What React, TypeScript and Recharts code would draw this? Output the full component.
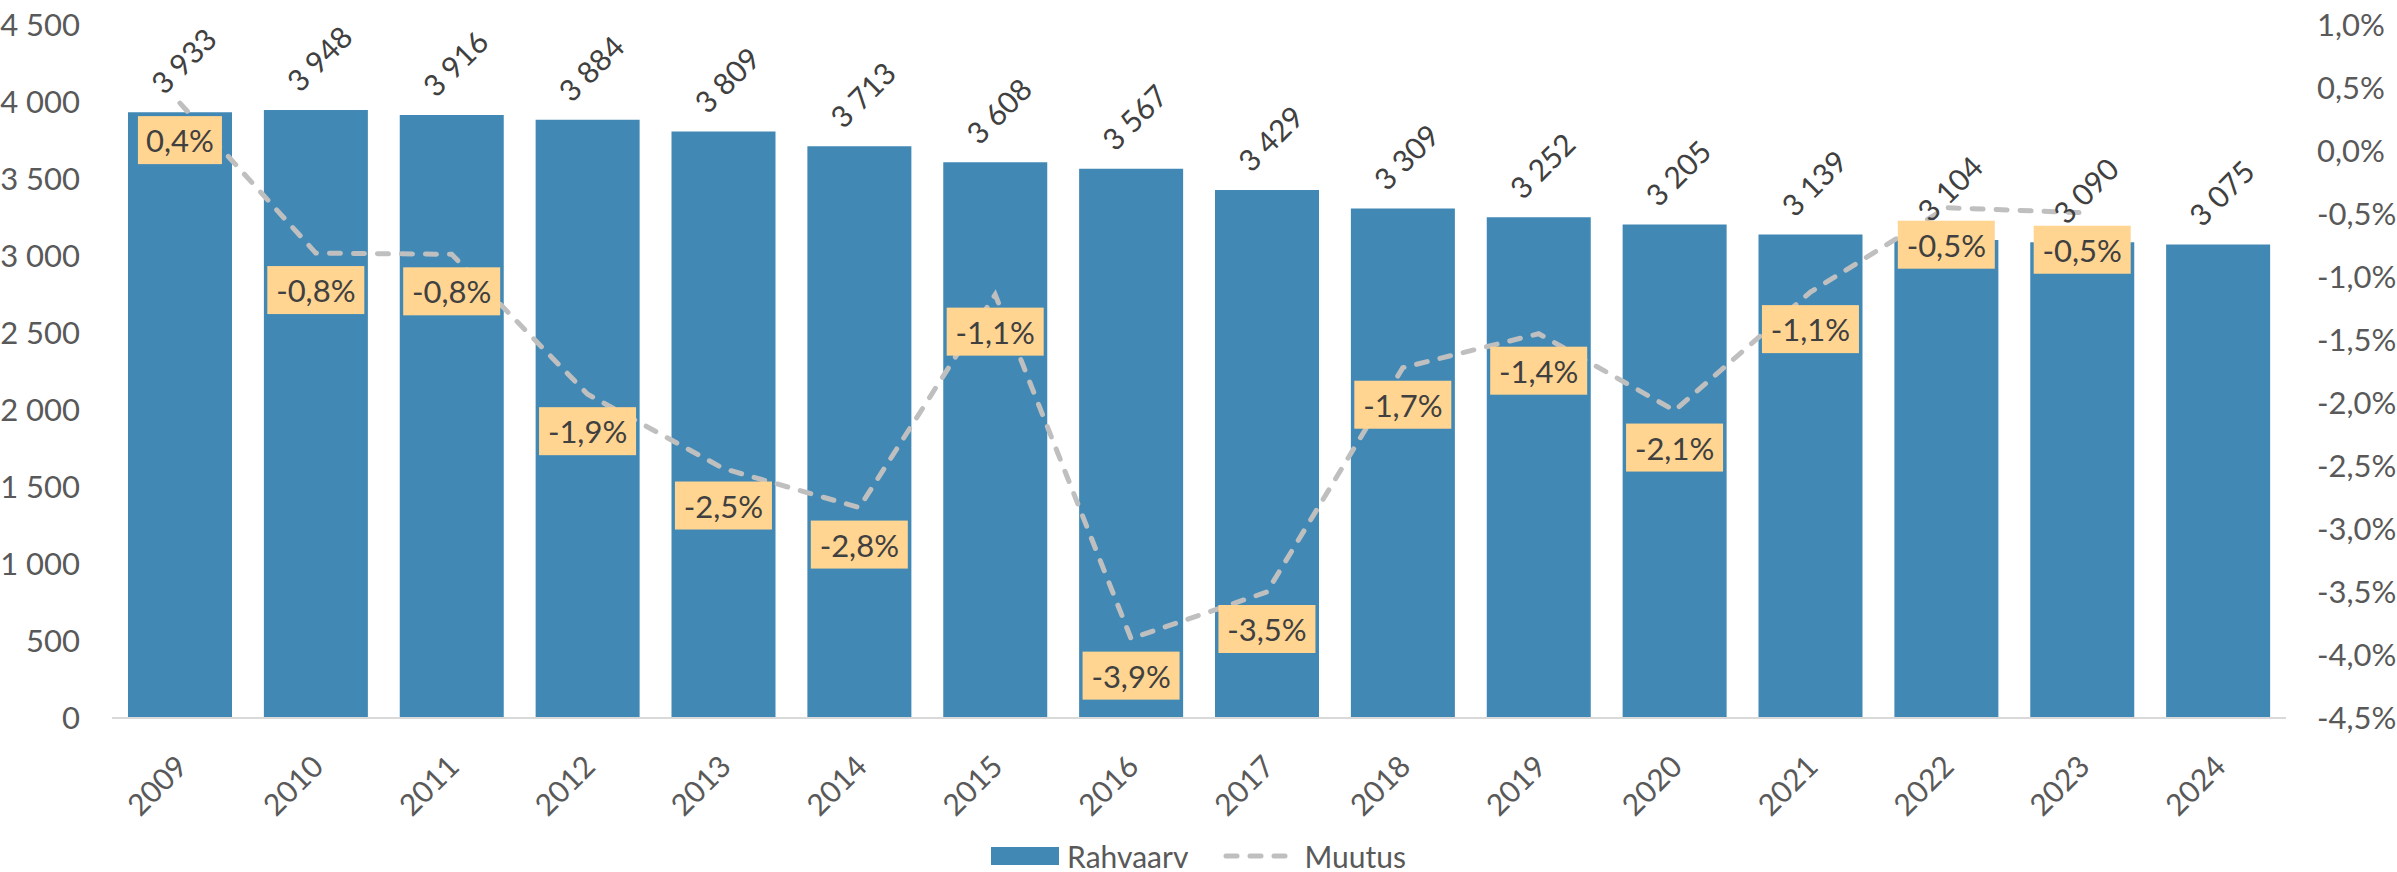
import React from "react";
import {
  Bar,
  ComposedChart,
  LabelList,
  Legend,
  Line,
  XAxis,
  YAxis,
} from "recharts";

const years = [
  "2009", "2010", "2011", "2012", "2013", "2014", "2015", "2016",
  "2017", "2018", "2019", "2020", "2021", "2022", "2023", "2024",
];
const rahvaarv = [
  3933, 3948, 3916, 3884, 3809, 3713, 3608, 3567,
  3429, 3309, 3252, 3205, 3139, 3104, 3090, 3075,
];
// muutus in %
const muutus: (number | null)[] = [
  0.38, -0.81, -0.82, -1.93, -2.52, -2.83, -1.14, -3.87,
  -3.5, -1.72, -1.45, -2.06, -1.12, -0.45, -0.49, null,
];
const leftTicks = [0, 500, 1000, 1500, 2000, 2500, 3000, 3500, 4000, 4500];
const rightTicks = [-4.5, -4, -3.5, -3, -2.5, -2, -1.5, -1, -0.5, 0, 0.5, 1];

const data = years.map((year, i) => ({
  year,
  rahvaarv: rahvaarv[i],
  muutus: muutus[i],
}));

const FONT = "Lato, 'Open Sans', sans-serif";
const BLUE = "#4189B4";
const LINE = "#BFBFBF";
const AXIS_TEXT = "#595959";
const LABEL_TEXT = "#404040";

const thousands = (v: number) =>
  String(v).replace(/\B(?=(\d{3})+(?!\d))/g, " ");
const pct = (v: number) => v.toFixed(1).replace(".", ",") + "%";

const YearTick = ({ x, y, payload }: any) => (
  <text
    x={x + 1}
    y={y}
    transform={`rotate(-45 ${x + 1} ${y})`}
    textAnchor="end"
    dominantBaseline="central"
    fill={AXIS_TEXT}
    fontSize={30}
  >
    {payload.value}
  </text>
);

const BarValue = (props: any) => {
  const { x, y, width, value } = props;
  const cx = x + width / 2 + 3;
  const cy = y - 52;
  return (
    <text
      x={cx}
      y={cy}
      transform={`rotate(-45 ${cx} ${cy})`}
      textAnchor="middle"
      dominantBaseline="central"
      fill={LABEL_TEXT}
      fontSize={30}
    >
      {thousands(value)}
    </text>
  );
};

const ChangeValue = (props: any) => {
  const { x, y, value } = props;
  if (value == null) return null;
  const text = pct(value);
  const w = text.length * 13 + 32;
  const h = 48;
  const cy = y + 37;
  return (
    <g>
      <rect x={x - w / 2} y={cy - h / 2} width={w} height={h} fill="#FFD591" />
      <text
        x={x}
        y={cy}
        textAnchor="middle"
        dominantBaseline="central"
        fill={LABEL_TEXT}
        fontSize={31}
      >
        {text}
      </text>
    </g>
  );
};

const renderLegend = () => (
  <div
    style={{
      display: "flex",
      justifyContent: "center",
      alignItems: "center",
      fontFamily: FONT,
      fontSize: 30,
      color: AXIS_TEXT,
      height: 40,
    }}
  >
    <span style={{ width: 68, height: 18, background: BLUE, marginRight: 8 }} />
    <span style={{ marginRight: 34 }}>Rahvaarv</span>
    <svg width={70} height={10} style={{ marginRight: 12 }}>
      <line
        x1={4}
        y1={5}
        x2={66}
        y2={5}
        stroke={LINE}
        strokeWidth={5}
        strokeDasharray="11 13"
        strokeLinecap="round"
      />
    </svg>
    <span>Muutus</span>
  </div>
);

export default function App() {
  return (
    <div
      style={{
        position: "absolute",
        left: 0,
        top: 0,
        fontFamily: FONT,
      }}
    >
      <ComposedChart
        width={2397}
        height={872}
        data={data}
        margin={{ top: 25, right: 0, bottom: 54, left: 0 }}
      >
        <XAxis
          dataKey="year"
          height={100}
          interval={0}
          axisLine={{ stroke: "#D9D9D9", strokeWidth: 2 }}
          tickLine={false}
          tickSize={0}
          tickMargin={42}
          tick={<YearTick />}
        />
        <YAxis
          yAxisId="left"
          width={112}
          domain={[0, 4500]}
          ticks={leftTicks}
          axisLine={false}
          tickLine={false}
          tickMargin={26}
          tickFormatter={thousands}
          tick={{ fill: AXIS_TEXT, fontSize: 31 }}
        />
        <YAxis
          yAxisId="right"
          orientation="right"
          width={111}
          domain={[-4.5, 1]}
          ticks={rightTicks}
          axisLine={false}
          tickLine={false}
          tickMargin={25}
          tickFormatter={pct}
          tick={{ fill: AXIS_TEXT, fontSize: 31 }}
        />
        <Legend
          layout="horizontal"
          verticalAlign="middle"
          align="center"
          wrapperStyle={{ top: 836, left: 0, width: 2397 }}
          content={renderLegend}
        />
        <Bar
          yAxisId="left"
          dataKey="rahvaarv"
          name="Rahvaarv"
          fill={BLUE}
          barSize={104}
          isAnimationActive={false}
        >
          <LabelList dataKey="rahvaarv" content={<BarValue />} />
        </Bar>
        <Line
          yAxisId="right"
          type="linear"
          dataKey="muutus"
          name="Muutus"
          stroke={LINE}
          strokeWidth={5}
          strokeDasharray="11 13"
          strokeLinecap="round"
          dot={false}
          activeDot={false}
          isAnimationActive={false}
        >
          <LabelList dataKey="muutus" content={<ChangeValue />} />
        </Line>
      </ComposedChart>
    </div>
  );
}
